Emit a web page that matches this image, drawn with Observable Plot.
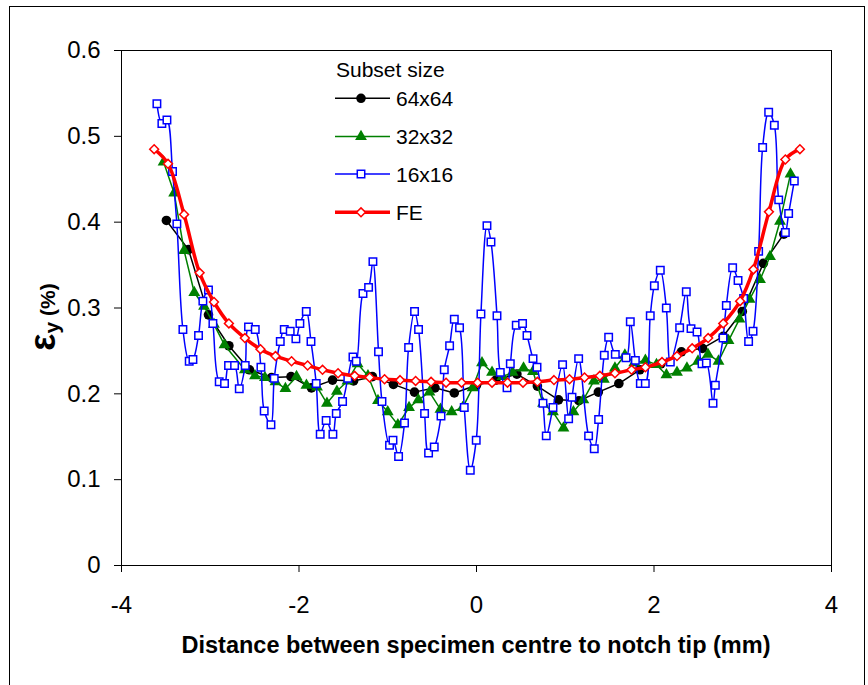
<!DOCTYPE html>
<html>
<head>
<meta charset="utf-8">
<script src="https://cdn.jsdelivr.net/npm/d3@7"></script>
<script src="https://cdn.jsdelivr.net/npm/@observablehq/plot@0.6"></script>
<style>
  body { margin: 0; background: #fff; font-family: "Liberation Sans", Arial, sans-serif; }
  #wrap { position: relative; width: 868px; height: 685px; overflow: hidden; }
  #border { position: absolute; left: 9px; top: 6px; width: 856px; height: 700px; border: 1px solid #000; box-sizing: border-box; pointer-events: none; }
  #chart { position: absolute; left: 0; top: 0; }
  #xtitle { position: absolute; left: 0; width: 952px; top: 634px; text-align: center; font-weight: bold; font-size: 23.5px; line-height: 1; white-space: nowrap; color: #000; }
  #ytitle { position: absolute; left: 43px; top: 317px; transform: translate(-50%, -50%) rotate(-90deg); white-space: nowrap; font-weight: bold; color: #000; line-height: 1; }
  #legend { position: absolute; left: 0; top: 0; pointer-events: none; }
</style>
</head>
<body>
<div id="wrap">
  <div id="chart"></div>
  <div id="border"></div>
  <div id="xtitle">Distance between specimen centre to notch tip (mm)</div>
  <div id="ytitle"><span style="font-size:36px">ε</span><span style="font-size:21px;position:relative;top:4px">y</span><span style="font-size:21px"> (%)</span></div>
</div>
<script>
// ---- Data ----
const xTicks = [-4, -2, 0, 2, 4];
const yTicks = [0, 0.1, 0.2, 0.3, 0.4, 0.5, 0.6];
const seriesNames = ["64x64", "32x32", "16x16", "FE"];
const legendTitle = "Subset size";

const s64_x = [-3.494,-3.245,-3.02,-2.79,-2.558,-2.31,-2.09,-1.86,-1.622,-1.385,-1.173,-0.936,-0.699,-0.468,-0.25,0.0,0.218,0.455,0.686,0.924,1.154,1.373,1.604,1.84,2.078,2.309,2.546,2.78,2.995,3.232,3.463];
const s64_y = [0.402,0.368,0.292,0.256,0.228,0.219,0.220,0.207,0.216,0.215,0.220,0.211,0.202,0.207,0.201,0.210,0.216,0.223,0.209,0.193,0.192,0.202,0.212,0.228,0.235,0.249,0.253,0.267,0.296,0.352,0.386];

const s32_x = [-3.526,-3.407,-3.295,-3.18,-3.07,-2.958,-2.84,-2.61,-2.496,-2.384,-2.265,-2.153,-2.028,-1.916,-1.797,-1.685,-1.573,-1.454,-1.34,-1.223,-1.11,-1.0,-0.886,-0.76,-0.655,-0.53,-0.406,-0.28,-0.156,-0.044,0.062,0.175,0.293,0.406,0.53,0.636,0.749,0.861,0.98,1.092,1.204,1.323,1.435,1.56,1.672,1.778,1.903,2.028,2.14,2.259,2.371,2.496,2.608,2.727,2.84,2.963,3.077,3.195,3.307,3.42,3.538];
const s32_y = [0.470,0.434,0.367,0.318,0.302,0.281,0.257,0.228,0.221,0.219,0.214,0.206,0.220,0.210,0.208,0.189,0.203,0.215,0.235,0.221,0.192,0.179,0.164,0.184,0.193,0.202,0.182,0.179,0.184,0.207,0.236,0.225,0.220,0.225,0.230,0.226,0.189,0.179,0.160,0.179,0.193,0.215,0.217,0.230,0.245,0.236,0.239,0.234,0.222,0.225,0.230,0.238,0.246,0.238,0.262,0.287,0.310,0.333,0.360,0.401,0.456];

const s16_x = [-3.601,-3.545,-3.488,-3.425,-3.376,-3.308,-3.237,-3.195,-3.132,-3.083,-3.020,-2.970,-2.899,-2.839,-2.794,-2.726,-2.673,-2.606,-2.569,-2.493,-2.429,-2.392,-2.316,-2.279,-2.211,-2.166,-2.099,-2.035,-1.990,-1.918,-1.865,-1.806,-1.761,-1.694,-1.618,-1.580,-1.509,-1.450,-1.392,-1.355,-1.279,-1.216,-1.167,-1.104,-1.065,-0.980,-0.941,-0.878,-0.811,-0.765,-0.698,-0.653,-0.585,-0.540,-0.476,-0.400,-0.363,-0.303,-0.250,-0.191,-0.138,-0.070,-0.003,0.050,0.118,0.163,0.231,0.268,0.344,0.381,0.448,0.519,0.569,0.637,0.682,0.749,0.786,0.862,0.970,1.038,1.076,1.151,1.263,1.327,1.376,1.440,1.489,1.564,1.685,1.733,1.790,1.846,1.902,1.958,2.004,2.071,2.139,2.184,2.289,2.364,2.417,2.485,2.541,2.590,2.665,2.691,2.778,2.815,2.886,2.947,3.010,3.066,3.116,3.179,3.224,3.292,3.356,3.405,3.480,3.517,3.581];
const s16_y = [0.538,0.515,0.519,0.459,0.398,0.275,0.238,0.240,0.268,0.308,0.321,0.282,0.214,0.212,0.233,0.233,0.206,0.233,0.278,0.275,0.231,0.180,0.164,0.218,0.261,0.275,0.273,0.264,0.282,0.296,0.261,0.212,0.153,0.169,0.153,0.177,0.191,0.218,0.243,0.238,0.317,0.324,0.354,0.249,0.191,0.140,0.146,0.127,0.166,0.254,0.296,0.275,0.177,0.131,0.138,0.174,0.228,0.256,0.287,0.277,0.184,0.111,0.146,0.293,0.396,0.377,0.291,0.225,0.207,0.235,0.280,0.282,0.268,0.241,0.231,0.189,0.151,0.184,0.234,0.171,0.196,0.241,0.151,0.136,0.170,0.245,0.266,0.246,0.242,0.284,0.239,0.212,0.212,0.291,0.326,0.344,0.300,0.237,0.277,0.319,0.276,0.272,0.235,0.236,0.189,0.210,0.265,0.303,0.347,0.332,0.311,0.261,0.273,0.366,0.487,0.528,0.513,0.426,0.388,0.410,0.448];

const fe_x = [-3.632,-3.476,-3.295,-3.12,-2.958,-2.79,-2.61,-2.434,-2.265,-2.084,-1.903,-1.735,-1.56,-1.373,-1.204,-1.036,-0.861,-0.686,-0.512,-0.343,-0.168,0.012,0.175,0.349,0.524,0.686,0.873,1.048,1.217,1.39,1.56,1.747,1.903,2.09,2.259,2.43,2.61,2.78,2.97,3.12,3.295,3.48,3.644];
const fe_y = [0.485,0.468,0.409,0.341,0.307,0.282,0.265,0.252,0.244,0.238,0.233,0.228,0.224,0.221,0.219,0.217,0.216,0.215,0.214,0.213,0.213,0.213,0.213,0.213,0.213,0.214,0.216,0.217,0.219,0.221,0.224,0.228,0.231,0.237,0.244,0.253,0.265,0.282,0.308,0.345,0.412,0.473,0.485];

// ---- Build tables ----
const toRows = (xs, ys) => xs.map((x, i) => ({x, y: ys[i]}));
const d64 = toRows(s64_x, s64_y);
const d32 = toRows(s32_x, s32_y);
const d16 = toRows(s16_x, s16_y);
const dfe = toRows(fe_x, fe_y);

const styles = {
  "64x64": {color: "#000000", symbol: "circle", r: 4.8, fill: "#000000", lw: 1.5, stroke: "none"},
  "32x32": {color: "#008000", symbol: "triangle", r: 4.4, fill: "#008000", lw: 1.5, stroke: "none"},
  "16x16": {color: "#0000ff", symbol: "square", r: 4.2, fill: "#ffffff", lw: 1.5, stroke: "#0000ff"},
  "FE":    {color: "#ff0000", symbol: "diamond2", r: 4.0, fill: "#ffffff", lw: 3.5, stroke: "#ff0000"}
};

const font = "Liberation Sans, Arial, sans-serif";
const chart = Plot.plot({
  width: 868,
  height: 685,
  marginLeft: 121,
  marginRight: 37,
  marginTop: 50,
  marginBottom: 120,
  style: {fontFamily: font, fontSize: "24px", color: "#000", background: "transparent", overflow: "visible"},
  x: {domain: [-4, 4]},
  y: {domain: [0, 0.6]},
  marks: [
    Plot.frame({stroke: "#000", strokeWidth: 1}),
    Plot.axisX({ticks: xTicks, tickSize: 7, tickPadding: 23, tickFormat: d => String(d), label: null, fontSize: 24, stroke: "#000", strokeWidth: 1}),
    Plot.axisY({ticks: yTicks, tickSize: 7, tickPadding: 14, tickFormat: d => d === 0 ? "0" : d.toFixed(1), label: null, fontSize: 24, stroke: "#000", strokeWidth: 1}),
    Plot.line(d64, {x: "x", y: "y", stroke: styles["64x64"].color, strokeWidth: 1.5}),
    Plot.dot(d64, {x: "x", y: "y", symbol: "circle", r: styles["64x64"].r, fill: "#000", stroke: "none"}),
    Plot.line(d32, {x: "x", y: "y", stroke: styles["32x32"].color, strokeWidth: 1.5}),
    Plot.dot(d32, {x: "x", y: "y", symbol: "triangle", r: styles["32x32"].r, fill: "#008000", stroke: "none"}),
    Plot.line(d16, {x: "x", y: "y", stroke: styles["16x16"].color, strokeWidth: 1.5, curve: "catmull-rom"}),
    Plot.dot(d16, {x: "x", y: "y", symbol: "square", r: styles["16x16"].r, fill: "#fff", stroke: "#0000ff", strokeWidth: 1.5}),
    Plot.line(dfe, {x: "x", y: "y", stroke: styles["FE"].color, strokeWidth: 3.5, curve: "catmull-rom"}),
    Plot.dot(dfe, {x: "x", y: "y", symbol: "diamond2", r: styles["FE"].r, fill: "#fff", stroke: "#ff0000", strokeWidth: 1.5})
  ]
});
document.getElementById("chart").appendChild(chart);

// ---- Legend (overlay) ----
const lg = d3.select("#wrap").append("svg")
  .attr("id", "legend").attr("width", 868).attr("height", 685)
  .style("font-family", font);
lg.append("text").attr("x", 336).attr("y", 76.5).attr("font-size", 21).attr("fill", "#000").text(legendTitle);
const rowY = [98.3, 136.5, 174, 212.3];
const symMap = {circle: d3.symbolCircle, triangle: d3.symbolTriangle, square: d3.symbolSquare, diamond2: d3.symbolDiamond2};
seriesNames.forEach((name, i) => {
  const s = styles[name];
  const y = rowY[i];
  lg.append("line").attr("x1", 335).attr("x2", 390).attr("y1", y).attr("y2", y)
    .attr("stroke", s.color).attr("stroke-width", s.lw);
  lg.append("path")
    .attr("d", d3.symbol(symMap[s.symbol], Math.PI * s.r * s.r)())
    .attr("transform", `translate(361,${y})`)
    .attr("fill", s.fill).attr("stroke", s.stroke).attr("stroke-width", 1.5);
  lg.append("text").attr("x", 396).attr("y", y + 7.5).attr("font-size", 21).attr("fill", "#000").text(name);
});
</script>
</body>
</html>
